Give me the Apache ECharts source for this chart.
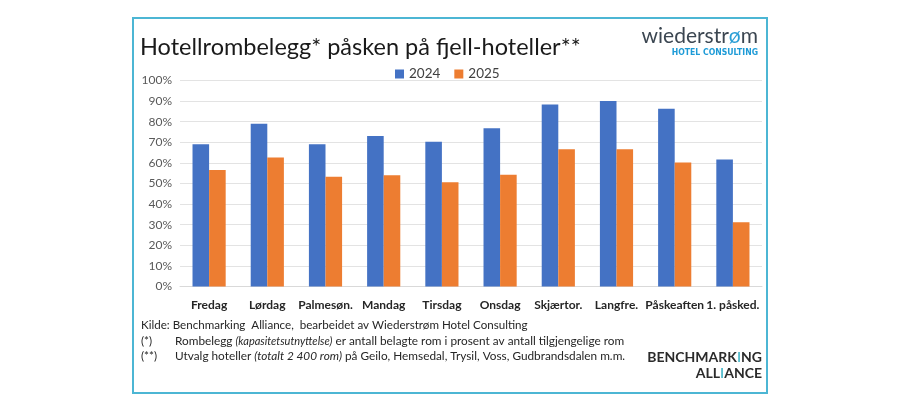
<!DOCTYPE html>
<html>
<head>
<meta charset="utf-8">
<script src="https://cdn.jsdelivr.net/npm/echarts@6/dist/echarts.min.js"></script>
<style>
  html, body { margin: 0; padding: 0; background: #fff; }
  .chart { width: 900px; height: 400px; }
</style>
</head>
<body>
<div class="chart" id="chart"></div>
<script>
var days = ['Fredag', 'Lørdag', 'Palmesøn.', 'Mandag', 'Tirsdag', 'Onsdag', 'Skjærtor.', 'Langfre.', 'Påskeaften', '1. påsked.']
var occ2024 = [69, 79, 69, 73, 70.3, 76.8, 88.3, 90, 86.3, 61.6]
var occ2025 = [56.6, 62.6, 53.3, 54, 50.6, 54.3, 66.6, 66.6, 60.2, 31.2]
var seriesNames = ['2024', '2025']

var font = 'Lato, "Open Sans", sans-serif'
var chart = echarts.init(document.getElementById('chart'))

chart.setOption({
  animation: false,
  color: ['#4472C4', '#ED7D31'],
  textStyle: { fontFamily: font },
  title: [
    {
      text: 'Hotellrombelegg* påsken på fjell-hoteller**',
      left: 140,
      top: 35,
      padding: 0,
      textStyle: { fontFamily: font, fontSize: 23.5, fontWeight: 'normal', color: '#1a1a1a' }
    },
    {
      // wiederstrøm logo
      text: 'wiederstr{o|ø}m',
      right: 142,
      top: 26,
      padding: 0,
      textStyle: {
        fontFamily: font, fontSize: 21, fontWeight: 'normal', color: '#3b4651',
        rich: { o: { fontFamily: font, fontSize: 21, color: '#2a9fd6' } }
      }
    },
    {
      text: 'HOTEL CONSULTING',
      right: 142,
      top: 48,
      padding: 0,
      textStyle: { fontFamily: '"Liberation Sans Narrow", "DejaVu Sans Condensed", sans-serif', fontSize: 8.6, fontWeight: 'bold', color: '#1e9bd7' }
    },
    {
      text: 'Kilde: Benchmarking  Alliance,  bearbeidet av Wiederstrøm Hotel Consulting',
      left: 141,
      top: 319,
      padding: 0,
      textStyle: { fontFamily: font, fontSize: 11.6, fontWeight: 'normal', color: '#262626' }
    },
    {
      text: '(*)',
      left: 141,
      top: 335,
      padding: 0,
      textStyle: { fontFamily: font, fontSize: 11.6, fontWeight: 'normal', color: '#262626' }
    },
    {
      text: 'Rombelegg {it|(kapasitetsutnyttelse)} er antall belagte rom i prosent av antall tilgjengelige rom',
      left: 175,
      top: 335,
      padding: 0,
      textStyle: {
        fontFamily: font, fontSize: 11.8, fontWeight: 'normal', color: '#262626',
        rich: { it: { fontFamily: font, fontSize: 11, fontStyle: 'italic', color: '#262626' } }
      }
    },
    {
      text: '(**)',
      left: 141,
      top: 350,
      padding: 0,
      textStyle: { fontFamily: font, fontSize: 11.6, fontWeight: 'normal', color: '#262626' }
    },
    {
      text: 'Utvalg hoteller {it|(totalt 2 400 rom)} på Geilo, Hemsedal, Trysil, Voss, Gudbrandsdalen m.m.',
      left: 175,
      top: 350,
      padding: 0,
      textStyle: {
        fontFamily: font, fontSize: 11.8, fontWeight: 'normal', color: '#262626',
        rich: { it: { fontFamily: font, fontSize: 11.8, fontStyle: 'italic', color: '#262626' } }
      }
    },
    {
      text: 'BENCHMARK{i|I}NG',
      right: 138,
      top: 350,
      padding: 0,
      textStyle: {
        fontFamily: font, fontSize: 14, fontWeight: 'bold', color: '#2b2b2b',
        rich: { i: { fontFamily: font, fontSize: 14, fontWeight: 'bold', color: '#5bbfcf' } }
      }
    },
    {
      text: 'ALL{i|I}ANCE',
      right: 138,
      top: 366,
      padding: 0,
      textStyle: {
        fontFamily: font, fontSize: 14, fontWeight: 'bold', color: '#2b2b2b',
        rich: { i: { fontFamily: font, fontSize: 14, fontWeight: 'bold', color: '#5bbfcf' } }
      }
    }
  ],
  legend: {
    data: seriesNames,
    left: 395,
    top: 67,
    padding: 0,
    itemWidth: 9,
    itemHeight: 9,
    itemGap: 14,
    icon: 'rect',
    textStyle: { fontFamily: font, fontSize: 13.5, color: '#404040' }
  },
  grid: {
    left: 180,
    right: 138,
    top: 80.5,
    bottom: 113.5
  },
  xAxis: {
    type: 'category',
    data: days,
    axisLine: { show: true, lineStyle: { color: '#d9d9d9' } },
    axisTick: { show: false },
    axisLabel: { interval: 0, margin: 13, fontFamily: font, fontSize: 12, fontWeight: 'bold', color: '#262626' }
  },
  yAxis: {
    type: 'value',
    min: 0,
    max: 100,
    interval: 10,
    axisLine: { show: false },
    axisTick: { show: false },
    axisLabel: { formatter: '{value}%', margin: 8, fontFamily: font, fontSize: 12, color: '#595959' },
    splitLine: { lineStyle: { color: '#e3e3e3' } }
  },
  series: [
    {
      name: seriesNames[0],
      type: 'bar',
      data: occ2024,
      barGap: '0%',
      barCategoryGap: '43%'
    },
    {
      name: seriesNames[1],
      type: 'bar',
      data: occ2025,
      barGap: '0%',
      barCategoryGap: '43%'
    }
  ],
  graphic: [
    {
      type: 'rect',
      shape: { x: 133, y: 18, width: 634, height: 375 },
      style: { fill: 'none', stroke: '#4cb6d4', lineWidth: 2 },
      silent: true
    }
  ]
})
</script>
</body>
</html>
